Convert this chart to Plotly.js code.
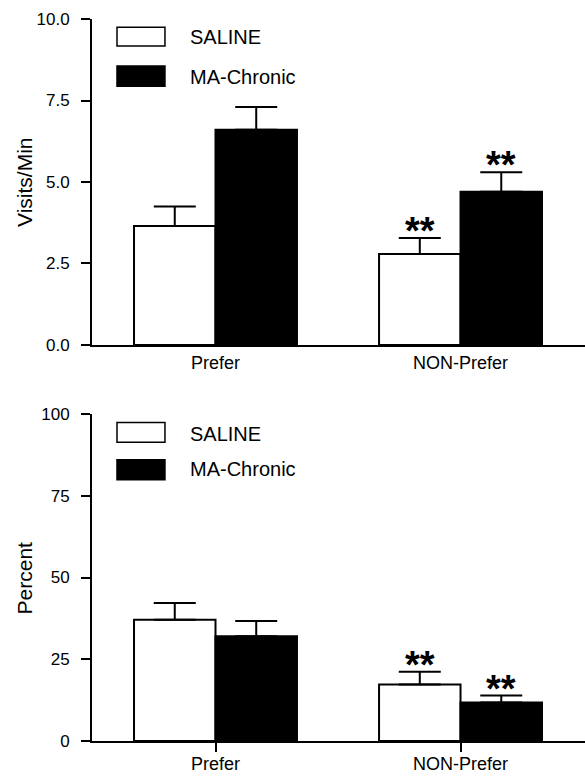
<!DOCTYPE html>
<html><head><meta charset="utf-8">
<script src="https://cdn.plot.ly/plotly-3.0.1.min.js"></script>
<style>html,body{margin:0;padding:0;background:#fff;}#chart{width:585px;height:776px;}</style>
</head><body><div id="chart"></div>
<script>
// ---- data ----
const categories = ['Prefer', 'NON-Prefer'];
const seriesNames = ['SALINE', 'MA-Chronic'];
const visitsSaline = [3.65, 2.79];
const visitsSalineErr = [0.60, 0.49];
const visitsMA = [6.60, 4.70];
const visitsMAErr = [0.70, 0.60];
const pctSaline = [37.1, 17.3];
const pctSalineErr = [5.1, 3.9];
const pctMA = [32.0, 11.8];
const pctMAErr = [4.7, 2.1];
const visitsTickVals = [0, 2.5, 5, 7.5, 10];
const visitsTickText = ['0.0', '2.5', '5.0', '7.5', '10.0'];
const pctTickVals = [0, 25, 50, 75, 100];
const pctTickText = ['0', '25', '50', '75', '100'];
const yTitles = ['Visits/Min', 'Percent'];
// significance marks per series, per category
const visitsSalineSig = ['', '**'];
const visitsMASig = ['', '**'];
const pctSalineSig = ['', '**'];
const pctMASig = ['', '**'];

// ---- style ----
const FONT = 'Liberation Sans, Arial, sans-serif';
const bargap = 0.335;
const barW = (1 - bargap) / 2;
const fills = ['#ffffff', '#000000'];

function barTrace(name, y, err, fill, xa, ya) {
  return {
    type: 'bar', name: name, x: categories, y: y, xaxis: xa, yaxis: ya,
    marker: {color: fill, line: {color: '#000', width: 2}},
    error_y: {type: 'data', symmetric: false, array: err, arrayminus: err.map(() => 0),
              color: '#000', thickness: 2, width: 21},
    showlegend: false, hoverinfo: 'skip'
  };
}

const data = [
  barTrace(seriesNames[0], visitsSaline, visitsSalineErr, fills[0], 'x', 'y'),
  barTrace(seriesNames[1], visitsMA, visitsMAErr, fills[1], 'x', 'y'),
  barTrace(seriesNames[0], pctSaline, pctSalineErr, fills[0], 'x2', 'y2'),
  barTrace(seriesNames[1], pctMA, pctMAErr, fills[1], 'x2', 'y2')
];

const annotations = [];
const shapes = [];

function addSigSeries(marks, vals, errs, seriesIdx, xa, ya) {
  for (let c = 0; c < categories.length; c++) {
    if (!marks[c]) continue;
    annotations.push({
      xref: xa, yref: ya, x: c + (seriesIdx === 0 ? -barW / 2 : barW / 2),
      y: vals[c] + errs[c], text: marks[c], showarrow: false,
      yanchor: 'bottom', yshift: -16,
      font: {family: FONT, size: 38, color: '#000', weight: 'bold'}
    });
  }
}
addSigSeries(visitsSalineSig, visitsSaline, visitsSalineErr, 0, 'x', 'y');
addSigSeries(visitsMASig, visitsMA, visitsMAErr, 1, 'x', 'y');
addSigSeries(pctSalineSig, pctSaline, pctSalineErr, 0, 'x2', 'y2');
addSigSeries(pctMASig, pctMA, pctMAErr, 1, 'x2', 'y2');

function addLegend(xa, ya, boxes, textY) {
  for (let i = 0; i < 2; i++) {
    shapes.push({type: 'rect', xref: xa + ' domain', yref: ya + ' domain',
      x0: 0.0507, x1: 0.148, y0: boxes[i][0], y1: boxes[i][1],
      fillcolor: fills[i], line: {color: '#000', width: 1.5}});
    annotations.push({xref: xa + ' domain', yref: ya + ' domain', x: 0.195, y: textY[i],
      xanchor: 'left', yanchor: 'middle', text: seriesNames[i], showarrow: false,
      font: {family: FONT, size: 20, color: '#000'}});
  }
}
addLegend('x', 'y', [[0.917, 0.975], [0.794, 0.856]], [0.945, 0.822]);
addLegend('x2', 'y2', [[0.914, 0.974], [0.799, 0.860]], [0.940, 0.832]);

// y-axis titles, placed as rotated text left of the tick labels
[['y', yTitles[0]], ['y2', yTitles[1]]].forEach(([ya, t]) => {
  annotations.push({xref: 'paper', yref: ya + ' domain', x: -0.136, y: 0.5,
    xanchor: 'center', yanchor: 'middle', textangle: -90, text: t, showarrow: false,
    font: {family: FONT, size: 21, color: '#000'}});
});

const xr = [-0.504, 1.508];
function xAxis(anchor, ticks, standoff) {
  return {anchor: anchor, type: 'category', range: xr, showline: true, linecolor: '#000',
    linewidth: 2, ticks: ticks, ticklen: 9, tickwidth: 2, tickcolor: '#000',
    showgrid: false, zeroline: false, fixedrange: true, ticklabelstandoff: standoff,
    tickfont: {family: FONT, size: 18, color: '#000'}};
}
function yAxis(anchor, domain, range, tv, tt) {
  return {anchor: anchor, domain: domain, range: range, tickvals: tv, ticktext: tt,
    showline: true, linecolor: '#000', linewidth: 2, ticks: 'outside', ticklen: 9,
    tickwidth: 2, tickcolor: '#000', showgrid: false, zeroline: false, fixedrange: true,
    ticklabelstandoff: 8,
    tickfont: {family: FONT, size: 17, color: '#000'}};
}

const layout = {
  width: 585, height: 776,
  margin: {l: 92, r: 0, t: 19, b: 35},
  paper_bgcolor: '#fff', plot_bgcolor: '#fff',
  barmode: 'group', bargap: bargap, bargroupgap: 0,
  showlegend: false,
  xaxis: xAxis('y', '', 0),
  yaxis: yAxis('x', [0.5485, 1], [0, 10], visitsTickVals, visitsTickText),
  xaxis2: xAxis('y2', 'outside', -4),
  yaxis2: yAxis('x2', [0, 0.4529], [0, 100], pctTickVals, pctTickText),
  annotations: annotations,
  shapes: shapes,
  font: {family: FONT, color: '#000'}
};

Plotly.newPlot('chart', data, layout, {displayModeBar: false, staticPlot: true});
</script>
</body></html>
